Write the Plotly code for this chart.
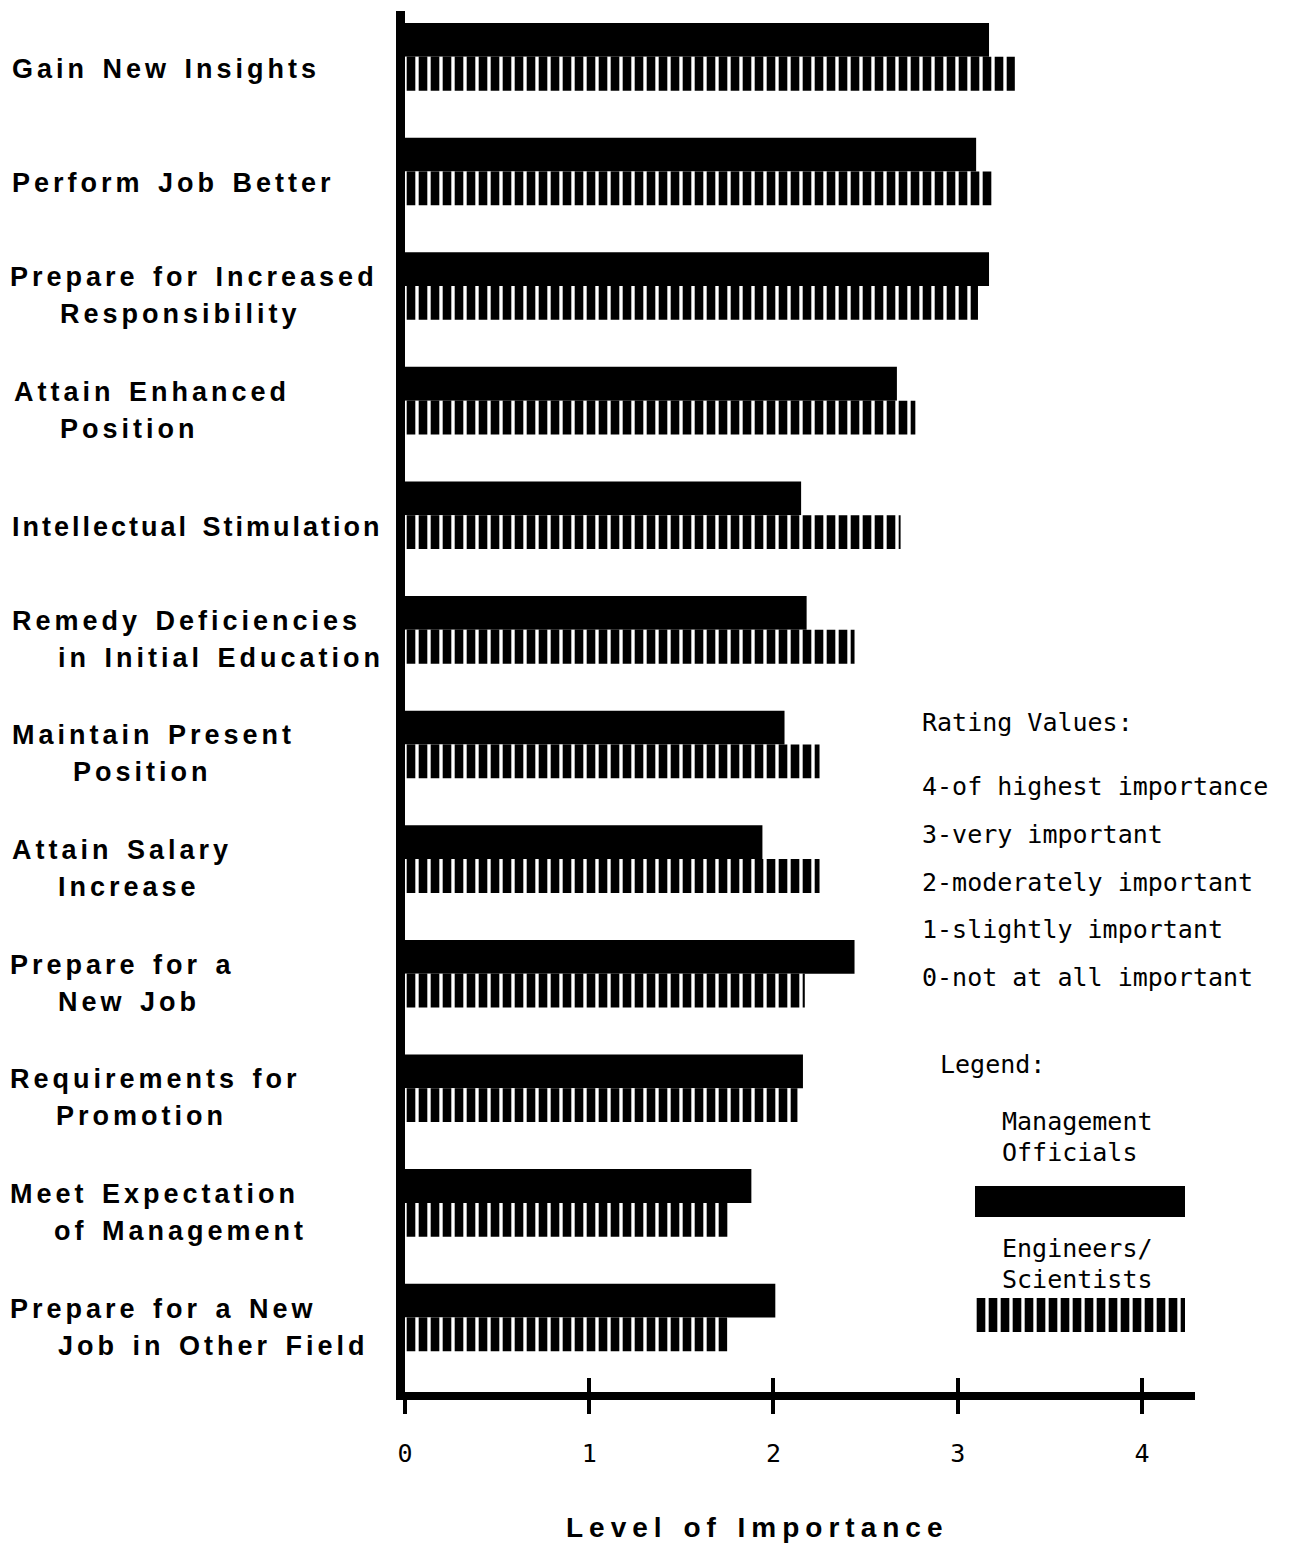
import plotly.graph_objects as go

# data
CATEGORIES = [
    "Gain New Insights",
    "Perform Job Better",
    "Prepare for Increased Responsibility",
    "Attain Enhanced Position",
    "Intellectual Stimulation",
    "Remedy Deficiencies in Initial Education",
    "Maintain Present Position",
    "Attain Salary Increase",
    "Prepare for a New Job",
    "Requirements for Promotion",
    "Meet Expectation of Management",
    "Prepare for a New Job in Other Field",
]
LABEL_LINES = [
    ["Gain New Insights"],
    ["Perform Job Better"],
    ["Prepare for Increased", "Responsibility"],
    ["Attain Enhanced", "Position"],
    ["Intellectual Stimulation"],
    ["Remedy Deficiencies", "in Initial Education"],
    ["Maintain Present", "Position"],
    ["Attain Salary", "Increase"],
    ["Prepare for a", "New Job"],
    ["Requirements for", "Promotion"],
    ["Meet Expectation", "of Management"],
    ["Prepare for a New", "Job in Other Field"],
]
MANAGEMENT = [3.17, 3.10, 3.17, 2.67, 2.15, 2.18, 2.06, 1.94, 2.44, 2.16, 1.88, 2.01]
ENGINEERS = [3.31, 3.19, 3.11, 2.77, 2.69, 2.44, 2.25, 2.25, 2.17, 2.13, 1.76, 1.75]
SERIES = ["Management Officials", "Engineers/Scientists"]
LEGEND_LINES = [["Management", "Officials"], ["Engineers/", "Scientists"]]
X_TICKS = [0, 1, 2, 3, 4]
RATING_TITLE = "Rating Values:"
RATINGS = [
    "4-of highest importance",
    "3-very important",
    "2-moderately important",
    "1-slightly important",
    "0-not at all important",
]
X_TITLE = "Level of Importance"

# page geometry (pixels)
W, H = 1293, 1564
ML, MR, MT, MB = 405, 98, 11, 172
PW, PH = W - ML - MR, H - MT - MB


def px(x):
    return (x - ML) / PW


def py(y):
    return (H - MB - y) / PH


SANS = "Liberation Sans"
MONO = "DejaVu Sans Mono"
stripes = dict(shape="|", fgcolor="black", bgcolor="white", size=12,
               solidity=0.72, fillmode="replace")

fig = go.Figure()
fig.add_trace(go.Bar(y=CATEGORIES, x=MANAGEMENT, orientation="h", name=SERIES[0],
                     marker=dict(color="black", line=dict(width=0))))
fig.add_trace(go.Bar(y=CATEGORIES, x=ENGINEERS, orientation="h", name=SERIES[1],
                     marker=dict(color="white", pattern=stripes, line=dict(width=0))))

# legend keys, each filling its own little axis
fig.add_trace(go.Bar(x=[1], y=[0], orientation="h", width=1, offset=-0.5,
                     xaxis="x2", yaxis="y2", name=SERIES[0],
                     marker=dict(color="black", line=dict(width=0))))
fig.add_trace(go.Bar(x=[1], y=[0], orientation="h", width=1, offset=-0.5,
                     xaxis="x2", yaxis="y3", name=SERIES[1],
                     marker=dict(color="white", pattern=stripes, line=dict(width=0))))

annotations = []
tight = []  # labels that need less letter spacing to clear the axis
# left category labels
line1_x = [12, 12, 10, 14, 12, 12, 12, 12, 10, 10, 10, 10]
line2_x = [None, None, 60, 60, None, 58, 73, 58, 58, 56, 54, 58]
for i, lines in enumerate(LABEL_LINES):
    if len(lines) == 1:
        placed = [(lines[0], line1_x[i], -12)]
    else:
        placed = [(lines[0], line1_x[i], 9), (lines[1], line2_x[i], -28)]
    for text, x0, shift in placed:
        if len(text) > 22:
            tight.append(len(annotations))
        annotations.append(dict(
            text=text, xref="paper", x=px(x0 - 2), xanchor="left", align="left",
            yref="y", y=CATEGORIES[i], yshift=shift, yanchor="middle",
            showarrow=False, font=dict(family=SANS, size=27, color="black", weight="bold"),
        ))
n_labels = len(annotations)

# axis title
annotations.append(dict(
    text=X_TITLE, xref="paper", x=px(757), yref="paper", y=py(1527),
    xanchor="center", yanchor="middle", showarrow=False,
    font=dict(family=SANS, size=28, color="black", weight="bold"),
))
title_idx = len(annotations) - 1

mono = dict(family=MONO, size=25, color="black")
annotations.append(dict(text=RATING_TITLE, xref="paper", x=px(920), yref="paper", y=py(722),
                        xanchor="left", yanchor="middle", showarrow=False, font=mono))
for k, r in enumerate(RATINGS):
    annotations.append(dict(text=r, xref="paper", x=px(920), yref="paper", y=py(787 + 47.5 * k),
                            xanchor="left", yanchor="middle", showarrow=False, font=mono))
annotations.append(dict(text="Legend:", xref="paper", x=px(938), yref="paper", y=py(1064),
                        xanchor="left", yanchor="middle", showarrow=False, font=mono))
for lines, y0 in zip(LEGEND_LINES, [1121, 1248]):
    for j, t in enumerate(lines):
        annotations.append(dict(text=t, xref="paper", x=px(1000), yref="paper", y=py(y0 + 31 * j),
                                xanchor="left", yanchor="middle", showarrow=False, font=mono))

fig.update_layout(
    width=W, height=H,
    margin=dict(l=ML, r=MR, t=MT, b=MB),
    plot_bgcolor="white", paper_bgcolor="white",
    barmode="group", bargap=0.41, bargroupgap=0,
    showlegend=False,
    annotations=annotations,
    xaxis=dict(range=[0, 4.288], tickvals=X_TICKS, ticks="outside", ticklen=14, tickwidth=4,
               tickcolor="black", showline=True, linewidth=8, linecolor="black",
               showgrid=False, zeroline=False, ticklabelstandoff=18,
               tickfont=dict(family=MONO, size=25, color="black")),
    xaxis4=dict(range=[0, 4.288], tickvals=X_TICKS, ticks="inside", ticklen=14, tickwidth=4,
                tickcolor="black", overlaying="x", anchor="y", side="bottom",
                showline=False, showgrid=False, zeroline=False, showticklabels=False),
    yaxis=dict(categoryorder="array", categoryarray=CATEGORIES, range=[11.65, -0.40],
               showticklabels=False, ticks="", showline=True, linewidth=9,
               linecolor="black", showgrid=False, zeroline=False),
    xaxis2=dict(domain=[px(975), px(1185)], range=[0, 1], anchor="y2", visible=False),
    yaxis2=dict(domain=[py(1217), py(1186)], range=[-0.5, 0.5], anchor="x2", visible=False),
    yaxis3=dict(domain=[py(1332), py(1298)], range=[-0.5, 0.5], anchor="x2", visible=False),
)
# make the extra overlay axis trace-free but drawn
fig.add_trace(go.Scatter(x=[], y=[], xaxis="x4", yaxis="y", showlegend=False))

# wide letter spacing of the original typesetting, and no page margin
rules = "body{margin:0}"
for i in range(n_labels):
    ls = 3 if i in tight else 4
    rules += f'.annotation[data-index="{i}"] text{{letter-spacing:{ls}px;word-spacing:3px}}'
rules += f'.annotation[data-index="{title_idx}"] text{{letter-spacing:6px;word-spacing:2px}}'
post = ("var s=document.createElement('style');s.textContent='" + rules.replace("'", "\\'")
        + "';document.head.appendChild(s);")

fig.write_html("out.html", post_script=post, config={"displayModeBar": False})
